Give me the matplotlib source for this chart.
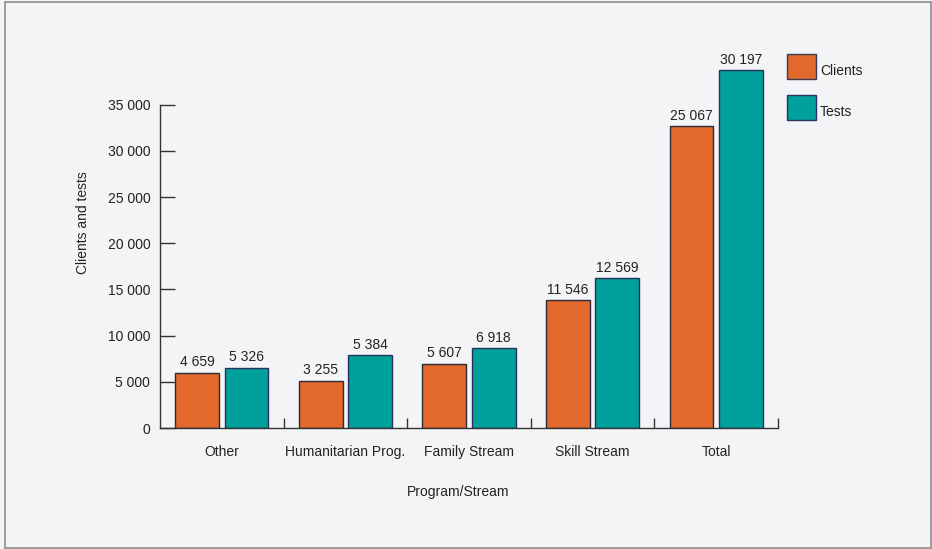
import matplotlib
matplotlib.use("Agg")
import matplotlib.pyplot as plt
from matplotlib.patches import Rectangle
import numpy as np

categories = ["Other", "Humanitarian Prog.", "Family Stream", "Skill Stream", "Total"]
# bar heights as drawn on the picture's y-axis
clients_height = [5985, 5120, 6960, 13820, 32650]
tests_height = [6526, 7900, 8626, 16234, 38745]
# printed value labels
clients_labels = ["4 659", "3 255", "5 607", "11 546", "25 067"]
tests_labels = ["5 326", "5 384", "6 918", "12 569", "30 197"]
yticks = [0, 5000, 10000, 15000, 20000, 25000, 30000, 35000]
ytick_labels = ["0", "5 000", "10 000", "15 000", "20 000", "25 000", "30 000", "35 000"]

plt.rcParams['font.family'] = ['Liberation Sans', 'DejaVu Sans']
W, H = 932, 549
fig = plt.figure(figsize=(W / 100, H / 100), dpi=100)
bg = "#f3f4f6"
fig.patch.set_facecolor(bg)

# frame
fig.add_artist(Rectangle((5 / W, 1 / H), (931 - 5) / W, (547 - 1) / H,
                         transform=fig.transFigure, fill=False,
                         edgecolor="#8c8c8c", linewidth=1.2))

x0, x1 = 160, 778
y0 = 428
px_per_5000 = 46.19
ytop = 42000
top_px = y0 - ytop / 5000 * px_per_5000
ax = fig.add_axes([x0 / W, (H - y0) / H, (x1 - x0) / W, (y0 - top_px) / H])
ax.set_facecolor(bg)
ax.patch.set_alpha(0)

orange = "#e2692b"
teal = "#00a19a"
x = np.arange(len(categories))
bw = 0.355
off = 0.2
ax.bar(x - off, clients_height, bw, color=orange, edgecolor="#2a2a3a", linewidth=1.0)
ax.bar(x + off, tests_height, bw, color=teal, edgecolor="#283060", linewidth=1.0)

for xi, h, lab in zip(x - off, clients_height, clients_labels):
    ax.annotate(lab, (xi, h), xytext=(0, 2.5), textcoords="offset points",
                ha="center", va="bottom", fontsize=10, color="#222222")
for xi, h, lab in zip(x + off, tests_height, tests_labels):
    ax.annotate(lab, (xi, h), xytext=(0, 2.5), textcoords="offset points",
                ha="center", va="bottom", fontsize=10, color="#222222")

ax.set_xlim(-0.5, len(categories) - 0.5)
ax.set_ylim(0, ytop)

for s in ["top", "right"]:
    ax.spines[s].set_visible(False)
ax.spines["left"].set_bounds(0, 35000)
ax.spines["left"].set_color("#333333")
ax.spines["bottom"].set_color("#333333")
ax.spines["left"].set_linewidth(1.0)
ax.spines["bottom"].set_linewidth(1.0)

ax.set_yticks(yticks)
ax.set_yticklabels(ytick_labels)
ax.tick_params(axis="y", direction="in", length=11, width=1.0, color="#333333",
               pad=7, labelsize=10, labelcolor="#222222")

ax.set_xticks(x)
ax.set_xticklabels(categories)
ax.tick_params(axis="x", which="major", length=0, pad=12, labelsize=10, labelcolor="#222222")
ax.set_xticks(np.arange(len(categories)) + 0.5, minor=True)
ax.tick_params(axis="x", which="minor", direction="in", length=7.5, width=1.0, color="#333333")

fig.text(83 / W, 1 - 223 / H, "Clients and tests", rotation=90, ha="center", va="center",
         fontsize=10, color="#222222")
fig.text(458 / W, 1 - 492 / H, "Program/Stream", ha="center", va="center",
         fontsize=10, color="#222222")

# legend
for (ytop_px, col, ec, lab) in [(54, orange, "#3a3a5a", "Clients"), (95, teal, "#283060", "Tests")]:
    fig.add_artist(Rectangle((787 / W, 1 - (ytop_px + 25) / H), 29 / W, 25 / H,
                             transform=fig.transFigure, facecolor=col, edgecolor=ec,
                             linewidth=1.0))
    fig.text(820 / W, 1 - (ytop_px + 17) / H, lab, ha="left", va="center",
             fontsize=10, color="#222222")

fig.savefig("out.png", dpi=100, facecolor=bg)
